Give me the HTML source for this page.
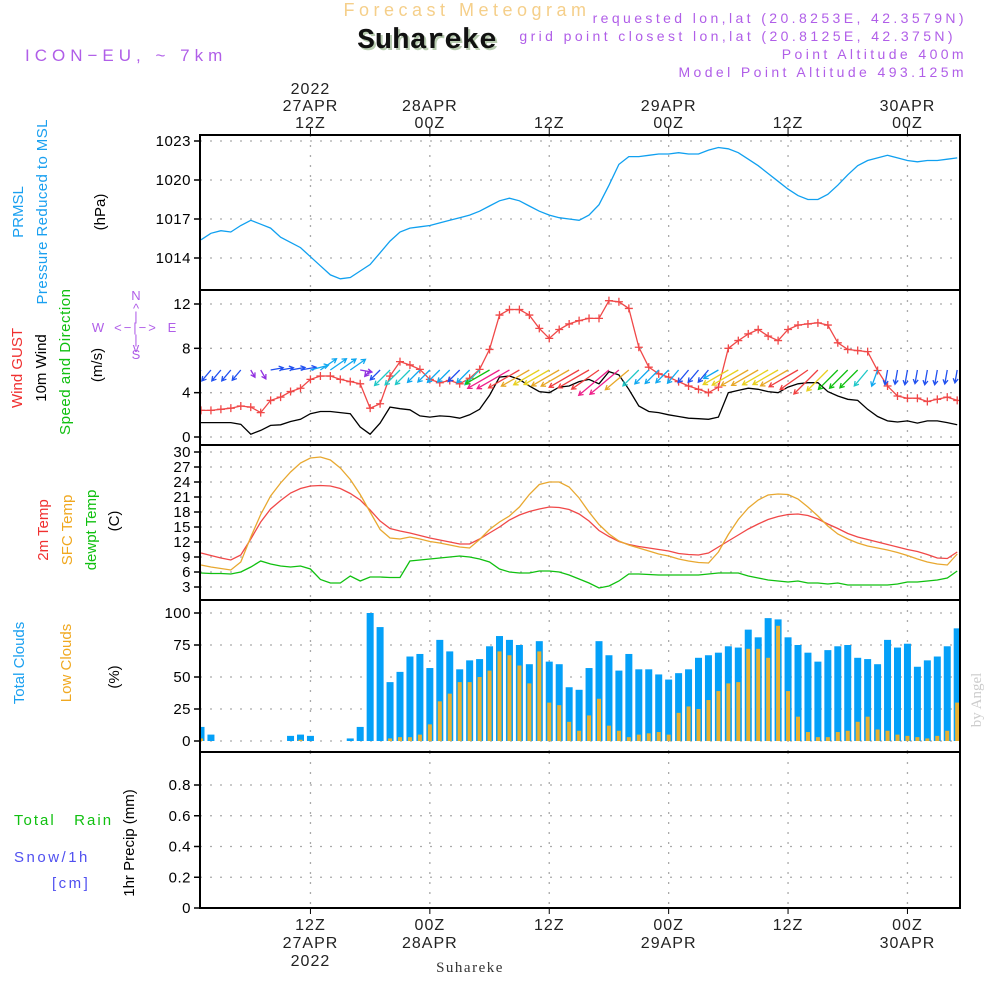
<!DOCTYPE html>
<html><head><meta charset="utf-8">
<style>
html,body{margin:0;padding:0;background:#fff;}
svg{display:block;font-family:"Liberation Sans",sans-serif;}
</style></head>
<body>
<svg id="chart" width="1000" height="1000" viewBox="0 0 1000 1000" xmlns="http://www.w3.org/2000/svg">
<g>
<text x="467" y="16" text-anchor="middle" font-size="18" fill="#f5cf8a" letter-spacing="4.5">Forecast Meteogram</text>
<text x="429" y="50" text-anchor="middle" font-size="29" font-weight="bold" font-family="Liberation Mono, monospace" fill="#b8ccb0">Suhareke</text>
<text x="427" y="48" text-anchor="middle" font-size="29" font-weight="bold" font-family="Liberation Mono, monospace" fill="#111">Suhareke</text>
<text x="25" y="61" font-size="17" fill="#b05ee8" letter-spacing="5">ICON−EU, ~ 7km</text>
<g font-size="14" fill="#b05ee8" text-anchor="end" letter-spacing="3.4">
<text x="967" y="23">requested lon,lat (20.8253E, 42.3579N)</text>
<text x="956" y="41">grid point closest lon,lat (20.8125E, 42.375N)</text>
<text x="967" y="59">Point Altitude 400m</text>
<text x="967" y="77">Model Point Altitude 493.125m</text>
</g>
</g>
<g id="left-labels" font-size="15">
<text transform="translate(23,212) rotate(-90)" text-anchor="middle" fill="#1aa0f0">PRMSL</text>
<text transform="translate(47,212) rotate(-90)" text-anchor="middle" fill="#1aa0f0" textLength="185">Pressure Reduced to MSL</text>
<text transform="translate(105,212) rotate(-90)" text-anchor="middle" fill="#000">(hPa)</text>
<text transform="translate(22,368) rotate(-90)" text-anchor="middle" fill="#f03030">Wind GUST</text>
<text transform="translate(46,368) rotate(-90)" text-anchor="middle" fill="#000">10m Wind</text>
<text transform="translate(70,362) rotate(-90)" text-anchor="middle" fill="#10c010" textLength="146">Speed and Direction</text>
<text transform="translate(102,365) rotate(-90)" text-anchor="middle" fill="#000">(m/s)</text>
<g fill="#b05ee8" font-size="13" text-anchor="middle">
<text x="98" y="332">W</text><text x="172" y="332">E</text>
<text x="136" y="300">N</text><text x="136" y="359">S</text>
<text x="136" y="332" letter-spacing="2">&lt;−|−&gt;</text>
<text x="136" y="313">^</text><text x="136" y="321">|</text><text x="136" y="344">|</text><text x="136" y="352">v</text>
</g>
<text transform="translate(48,530) rotate(-90)" text-anchor="middle" fill="#f03030">2m Temp</text>
<text transform="translate(72,530) rotate(-90)" text-anchor="middle" fill="#f0a820">SFC Temp</text>
<text transform="translate(96,530) rotate(-90)" text-anchor="middle" fill="#10c010">dewpt Temp</text>
<text transform="translate(119,521) rotate(-90)" text-anchor="middle" fill="#000">(C)</text>
<text transform="translate(24,663) rotate(-90)" text-anchor="middle" fill="#1aa0f0">Total Clouds</text>
<text transform="translate(71,663) rotate(-90)" text-anchor="middle" fill="#f0a820">Low Clouds</text>
<text transform="translate(119,677) rotate(-90)" text-anchor="middle" fill="#000">(%)</text>
<text transform="translate(134,843) rotate(-90)" text-anchor="middle" fill="#000">1hr Precip (mm)</text>
<text x="14" y="825" font-size="15" fill="#10c010" letter-spacing="2" xml:space="preserve">Total   Rain</text>
<text x="14" y="862" font-size="15" fill="#5050f0" letter-spacing="2.5">Snow/1h</text>
<text x="52" y="888" font-size="15" fill="#5050f0" letter-spacing="2.5">[cm]</text>
<text transform="translate(981,700) rotate(-90)" text-anchor="middle" font-family="Liberation Serif, serif" font-size="15" fill="#ccc">by Angel</text>
<text x="470" y="972" text-anchor="middle" font-family="Liberation Serif, serif" font-size="15" fill="#333" letter-spacing="1.5">Suhareke</text>
</g>
<g id="plot"></g>
</svg>
<script>
const hours = Array.from({length:77},(_,i)=>i+1);
const pressure=[1015.4,1015.9,1016.1,1016.0,1016.5,1016.9,1016.6,1016.3,1015.6,1015.2,1014.8,1014.1,1013.4,1012.7,1012.4,1012.5,1013.0,1013.5,1014.4,1015.3,1016.0,1016.3,1016.4,1016.5,1016.7,1016.9,1017.1,1017.3,1017.6,1018.0,1018.4,1018.6,1018.4,1018.0,1017.6,1017.3,1017.1,1017.0,1016.9,1017.3,1018.1,1019.6,1021.2,1021.8,1021.8,1021.9,1022.0,1022.0,1022.1,1022.0,1022.0,1022.3,1022.5,1022.4,1022.1,1021.6,1021.1,1020.5,1019.9,1019.3,1018.8,1018.5,1018.5,1018.9,1019.6,1020.4,1021.1,1021.5,1021.7,1021.9,1021.7,1021.5,1021.4,1021.5,1021.5,1021.6,1021.7];
const gust=[2.4,2.4,2.5,2.6,2.8,2.7,2.2,3.3,3.6,4.1,4.4,5.2,5.5,5.5,5.2,5.0,4.8,2.6,3.0,5.5,6.8,6.5,6.1,5.2,4.9,5.1,4.8,5.3,6.1,7.9,11.0,11.5,11.5,11.0,9.8,8.9,9.7,10.2,10.5,10.7,10.7,12.3,12.2,11.6,8.1,6.3,5.7,5.4,5.0,4.6,4.3,4.0,4.5,8.0,8.7,9.3,9.7,9.1,8.7,9.7,10.1,10.2,10.3,10.1,8.5,7.9,7.8,7.7,6.0,4.6,3.7,3.5,3.5,3.2,3.4,3.6,3.3];
const wind=[1.3,1.3,1.3,1.3,1.15,0.25,0.6,1.05,1.1,1.4,1.6,2.1,2.3,2.3,2.2,2.1,0.9,0.25,1.25,2.7,2.55,2.45,1.9,1.8,1.9,1.85,1.7,2.0,2.5,3.75,5.4,5.5,5.2,4.6,4.1,4.0,4.5,4.6,5.0,5.2,4.8,5.9,5.6,4.3,2.8,2.3,2.2,2.0,1.85,1.7,1.65,1.6,1.8,4.0,4.2,4.4,4.3,4.1,4.0,4.5,4.8,4.9,4.9,4.1,3.7,3.4,3.3,2.5,1.85,1.45,1.35,1.45,1.25,1.45,1.45,1.3,1.1];
const windDir=[40,40,40,40,40,330,330,260,260,260,260,255,235,235,235,235,280,40,45,45,45,45,45,45,45,45,45,45,45,60,60,60,60,60,60,60,60,60,60,60,55,50,50,50,45,45,45,45,40,40,40,40,60,60,60,60,60,60,60,60,60,55,45,45,45,45,45,40,20,10,10,10,10,10,10,10,10];
const t2m=[9.8,9.3,8.8,8.4,9.4,12.6,16,18.6,20.3,21.8,22.7,23.2,23.3,23.2,22.7,21.7,20.4,18.4,16.2,14.7,14.2,13.8,13.3,12.8,12.4,12,11.6,11.6,12.6,13.8,15,16.4,17.4,18.1,18.6,19,18.9,18.5,17.6,16.2,14.3,13.1,12.1,11.5,11.1,10.8,10.5,10.2,9.7,9.5,9.4,9.8,11,12.2,13.4,14.6,15.6,16.5,17.1,17.5,17.6,17.3,16.6,15.6,14.7,13.7,13,12.5,12,11.5,11,10.5,10.1,9.5,8.8,8.7,10];
const tsfc=[7.4,7.0,6.7,6.4,8.0,13,17.5,21.2,23.8,26,27.8,28.8,29,28.4,26.8,24.5,21.5,18,14.5,12.8,12.6,13,12.6,12.1,11.8,11.4,11,10.8,12.5,14.5,16,17.2,19,21.5,23.5,24,24,23,20.8,18,15.5,13.6,12.2,11.4,10.8,10.2,9.6,9.2,8.6,8.2,7.9,7.8,10,13.5,16.5,18.8,20.4,21.4,21.6,21.5,20.6,19,17.2,15.2,13.6,12.6,11.8,11.2,10.8,10.4,9.9,9.3,8.6,8,7.6,7.4,9.6];
const dewpt=[5.8,5.7,5.7,5.6,6.0,7.0,8.2,7.6,7.2,7.0,7.2,6.6,4.5,3.8,3.8,5.2,4.2,5.0,5.0,4.9,4.9,8.2,8.4,8.6,8.8,9.0,9.2,9.0,8.6,8.0,6.6,6.0,5.8,5.8,6.2,6.2,6.0,5.4,4.6,3.8,2.8,3.2,4.2,5.6,5.6,5.5,5.4,5.4,5.4,5.4,5.4,5.6,5.8,5.8,5.8,5.2,4.8,4.4,4.2,4.0,4.2,3.8,3.8,3.6,3.8,3.4,3.4,3.4,3.4,3.4,3.6,4.0,4.0,4.2,4.4,4.8,6.2];
const totalClouds=[11,5,0,0,0,0,0,0,0,4,5,4,0,0,0,2,11,100,89,46,54,66,68,57,79,70,56,63,64,74,82,79,75,60,78,62,60,42,40,57,78,67,55,68,56,56,52,48,53,56,65,67,69,74,73,87,81,96,95,81,75,69,62,71,74,75,65,64,60,79,73,76,58,63,66,74,88];
const lowClouds=[2,0,0,0,0,0,0,0,0,0,1,0,0,0,0,0,0,0,0,2,3,3,5,13,31,37,46,46,50,55,70,67,59,45,70,30,28,15,8,20,33,12,8,3,5,6,7,5,22,27,25,32,39,45,46,72,72,65,90,39,19,7,3,3,7,8,15,19,9,8,5,4,3,2,4,8,30];
const precip=new Array(77).fill(0);
const tickHours=[12,24,36,48,60,72];
const topTickLabels=[["2022","27APR","12Z"],["","28APR","00Z"],["","","12Z"],["","29APR","00Z"],["","","12Z"],["","30APR","00Z"]];
const bottomTickLabels=[["12Z","27APR","2022"],["00Z","28APR",""],["12Z","",""],["00Z","29APR",""],["12Z","",""],["00Z","30APR",""]];
const pTicks=[1014,1017,1020,1023];
const wTicks=[0,4,8,12];
const tTicks=[3,6,9,12,15,18,21,24,27,30];
const cTicks=[0,25,50,75,100];
const rTicks=[0,0.2,0.4,0.6,0.8];

const NS="http://www.w3.org/2000/svg";
const plot=document.getElementById('plot');
const X0=200,X1=960;
const x=h=>201+(h-1)*9.95;
const lin=(d0,d1,r0,r1)=>v=>r0+(v-d0)*(r1-r0)/(d1-d0);
const yP=lin(1023,1014,141,258), yW=lin(0,12,437,304), yT=lin(3,30,587,452), yC=lin(0,100,741,613), yR=lin(0,0.8,908,785);
const panels=[[135,290],[290,445],[445,600],[600,752],[752,908]];
function el(tag,attrs,parent){const e=document.createElementNS(NS,tag);for(const k in attrs)e.setAttribute(k,attrs[k]);(parent||plot).appendChild(e);return e;}

const grid=el('g',{});


function hgrid(ticks,sc,fmt,name){
  ticks.forEach(t=>{
    const l=el('line',{x1:X0,x2:X1,y1:sc(t),y2:sc(t),stroke:'#aaa','stroke-width':1.3,'stroke-dasharray':'2,8'},grid);
    
    
    el('line',{x1:X0-6,x2:X0,y1:sc(t),y2:sc(t),stroke:'#000','stroke-width':1.5},grid);
    const tx=el('text',{x:X0-9,y:sc(t)+5,'text-anchor':'end','font-size':15,fill:'#000','letter-spacing':0.5},grid);
    tx.textContent=fmt(t);
    
    
  });
}
hgrid(pTicks,yP,String,'pressure');
hgrid(wTicks,yW,String,'wind');
hgrid(tTicks,yT,String,'temp');
hgrid(cTicks,yC,String,'cloud');
hgrid(rTicks,yR,t=>t===0?'0':t.toFixed(1),'precip');
tickHours.forEach((h,i)=>{
  panels.forEach(p=>{
    el('line',{x1:x(h),x2:x(h),y1:p[0],y2:p[1],stroke:'#aaa','stroke-width':1.3,'stroke-dasharray':'2,8'},grid);
  });
  el('line',{x1:x(h),x2:x(h),y1:128,y2:135,stroke:'#000','stroke-width':1},grid);
  el('line',{x1:x(h),x2:x(h),y1:908,y2:914,stroke:'#000','stroke-width':1},grid);
  topTickLabels[i].forEach((s,j)=>{ if(!s)return;
    const t=el('text',{x:x(h),y:94+j*17,'text-anchor':'middle','font-size':16,fill:'#222','letter-spacing':1},grid);
    t.textContent=s;
    
    
  });
  bottomTickLabels[i].forEach((s,j)=>{ if(!s)return;
    const t=el('text',{x:x(h),y:930+j*18,'text-anchor':'middle','font-size':16,fill:'#222','letter-spacing':1},grid);
    t.textContent=s;
    
    
  });
});

const defs=el('defs',{});
const cp=el('clipPath',{id:'clipplot'},defs);
el('rect',{x:X0,y:135,width:X1-X0,height:773},cp);
const data=el('g',{'clip-path':'url(#clipplot)'});



function line(vals,sc,color,name,w){
  const d=vals.map((v,i)=>(i?'L':'M')+x(hours[i]).toFixed(1)+','+sc(v).toFixed(1)).join('');
  const p=el('path',{d:d,fill:'none',stroke:color,'stroke-width':w||1.3},data);
  
  
}
totalClouds.forEach((v,i)=>{
  const r=el('rect',{x:x(hours[i])-3.5,y:yC(v),width:7,height:yC(0)-yC(v),fill:'#04a0f8'},data);
  
  
});
lowClouds.forEach((v,i)=>{
  const r=el('rect',{x:x(hours[i])-2,y:yC(v),width:4,height:yC(0)-yC(v),fill:'#e8b030'},data);
  
  
});
line(precip,yR,'#10c010','precip-line',1);
line(pressure,yP,'#10a0f0','pressure-line');
line(t2m,yT,'#f04848','t2m-line');
line(tsfc,yT,'#e8a830','sfc-temp-line');
line(dewpt,yT,'#10c010','dewpt-line');
line(wind,yW,'#000','wind-speed-line');
line(gust,yW,'#f04848','gust-line');
gust.forEach((v,i)=>{
  const cx=x(hours[i]),cy=yW(v);
  const g=el('path',{d:`M${cx-4},${cy}H${cx+4}M${cx},${cy-4}V${cy+4}`,stroke:'#f04848','stroke-width':1.3},data);
  
  
});
function wcol(s){
  if(s<1)return '#9030e0';
  if(s<1.8)return '#2050f0';
  if(s<2.4)return '#10a8f0';
  if(s<3.2)return '#20c8c8';
  if(s<3.8)return '#10c010';
  if(s<4.3)return '#e8d020';
  if(s<4.8)return '#e8a828';
  if(s<5.3)return '#f04040';
  return '#f0208a';
}
windDir.forEach((d,i)=>{
  const s=wind[i],L=7+s*5.5,a=d*Math.PI/180;
  const x0=x(hours[i]),y0=370;
  const dx=-Math.sin(a)*L,dy=Math.cos(a)*L;
  const x1=x0+dx,y1=y0+dy,ux=dx/L,uy=dy/L,h=5;
  const p=`M${x0},${y0}L${x1},${y1}M${x1-h*(ux*0.85-uy*0.5)},${y1-h*(uy*0.85+ux*0.5)}L${x1},${y1}L${x1-h*(ux*0.85+uy*0.5)},${y1-h*(uy*0.85-ux*0.5)}`;
  const ar=el('path',{d:p,fill:'none',stroke:wcol(s),'stroke-width':1.3},data);
  
  
});
panels.forEach(p=>{
  const r=el('rect',{x:X0,y:p[0],width:X1-X0,height:p[1]-p[0],fill:'none',stroke:'#000','stroke-width':2});
  
  
});
</script>
</body></html>
